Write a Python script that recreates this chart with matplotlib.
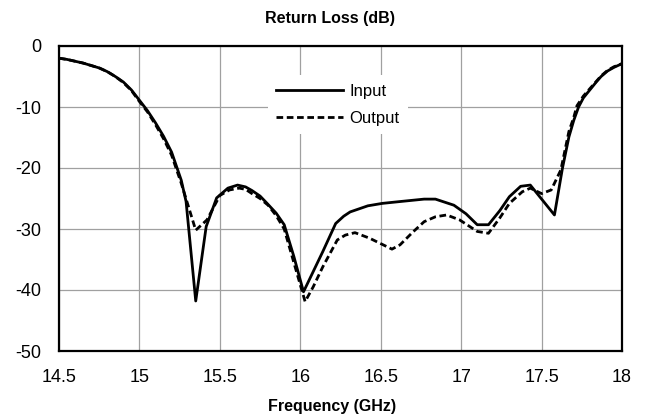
import matplotlib
matplotlib.use('Agg')
import matplotlib.pyplot as plt

plt.rcParams['font.family'] = ['Liberation Sans', 'DejaVu Sans']
plt.rcParams['axes.unicode_minus'] = False

# Input (solid) curve
f_in = [14.5, 14.55, 14.6, 14.65, 14.7, 14.75, 14.8, 14.85, 14.9, 14.95, 15.0,
        15.05, 15.1, 15.15, 15.2, 15.26, 15.29, 15.35, 15.415,
        15.48, 15.55, 15.61, 15.66, 15.7, 15.75, 15.79, 15.85, 15.9, 15.96, 16.02,
        16.08, 16.14, 16.22, 16.27, 16.31, 16.42, 16.51, 16.62, 16.77, 16.84,
        16.955, 17.03, 17.1, 17.17, 17.24, 17.3, 17.37, 17.43, 17.58, 17.63, 17.67,
        17.7, 17.73, 17.76, 17.8, 17.84, 17.87, 17.91, 17.95, 18.0]
rl_in = [-2.0, -2.2, -2.5, -2.8, -3.2, -3.6, -4.2, -5.0, -5.9, -7.2, -8.9,
         -10.6, -12.6, -14.8, -17.4, -22.0, -25.5, -41.8, -29.6,
         -24.9, -23.3, -22.8, -23.1, -23.7, -24.6, -25.7, -27.4, -29.3, -34.5, -40.3,
         -37.0, -33.7, -29.1, -27.9, -27.2, -26.2, -25.8, -25.5, -25.1, -25.1,
         -26.1, -27.5, -29.3, -29.3, -27.0, -24.7, -23.0, -22.8, -27.7, -20.0, -14.9,
         -12.2, -10.0, -8.5, -7.2, -5.9, -5.0, -4.1, -3.5, -2.9]

# Output (dashed) curve
f_out = [14.5, 14.55, 14.6, 14.65, 14.7, 14.75, 14.8, 14.85, 14.9, 14.95, 15.0,
         15.05, 15.1, 15.15, 15.2, 15.26, 15.35, 15.42, 15.5,
         15.56, 15.62, 15.66, 15.7, 15.75, 15.8, 15.85, 15.9, 15.96, 16.03, 16.08,
         16.14, 16.23, 16.28, 16.34, 16.43, 16.5, 16.57, 16.62, 16.7, 16.77, 16.84,
         16.91, 16.99, 17.1, 17.17, 17.24, 17.3, 17.38, 17.43, 17.5, 17.56, 17.62,
         17.67, 17.7, 17.72, 17.76, 17.8, 17.84, 17.87, 17.91, 17.95, 18.0]
rl_out = [-2.0, -2.2, -2.5, -2.8, -3.2, -3.6, -4.2, -5.0, -6.0, -7.3, -9.1,
          -10.8, -12.9, -15.2, -17.9, -22.5, -30.2, -28.5, -24.5,
          -23.6, -23.3, -23.5, -24.2, -25.0, -26.1, -27.8, -30.0, -35.5, -41.9, -39.5,
          -36.2, -31.8, -31.0, -30.6, -31.5, -32.4, -33.3, -32.6, -30.5, -28.8, -28.0,
          -27.7, -28.5, -30.4, -30.7, -28.2, -25.8, -23.9, -23.3, -24.2, -23.6, -20.3,
          -14.0, -11.7, -9.8, -8.2, -7.0, -5.8, -4.9, -4.0, -3.4, -2.9]

xticks = [14.5, 15, 15.5, 16, 16.5, 17, 17.5, 18]
xticklabels = ['14.5', '15', '15.5', '16', '16.5', '17', '17.5', '18']
yticks = [0, -10, -20, -30, -40, -50]

fig = plt.figure(figsize=(6.49, 4.18), dpi=100)
ax = fig.add_axes([59/649, 1 - 351/418, (622 - 59)/649, (351 - 46)/418])

ax.plot(f_in, rl_in, color='black', lw=2.0, label='Input')
ax.plot(f_out, rl_out, color='black', lw=2.0, dashes=(2.4, 1.3), label='Output')

ax.set_xlim(14.5, 18)
ax.set_ylim(-50, 0)
ax.set_xticks(xticks)
ax.set_xticklabels(xticklabels)
ax.set_yticks(yticks)
ax.tick_params(length=0, labelsize=13)
ax.tick_params(axis='x', pad=13)
ax.tick_params(axis='y', pad=13)
ax.grid(True, color='#a0a0a0', lw=0.9)
for s in ax.spines.values():
    s.set_linewidth(1.6)
    s.set_color('black')

leg = ax.legend(loc='center', bbox_to_anchor=(0.495, 0.807), fontsize=12,
                frameon=True, facecolor='white', edgecolor='none', framealpha=1,
                fancybox=False, handlelength=4.0, handletextpad=0.4,
                labelspacing=0.75, borderpad=0.5)

fig.text(330/649, 1 - 18/418, 'Return Loss (dB)', fontsize=11.5, fontweight='bold',
         ha='center', va='center')
fig.text(332/649, 1 - 407/418, 'Frequency (GHz)', fontsize=11.5, fontweight='bold',
         ha='center', va='center')

fig.savefig('out.png', dpi=100)
